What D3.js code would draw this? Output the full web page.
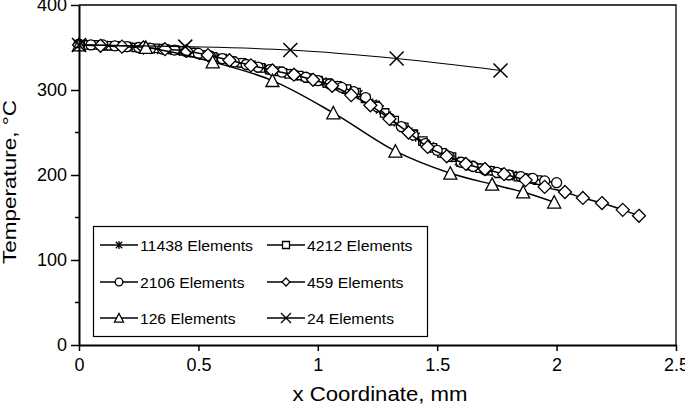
<!DOCTYPE html>
<html>
<head>
<meta charset="utf-8">
<script src="https://cdn.jsdelivr.net/npm/d3@7"></script>
<style>
  html, body { margin: 0; padding: 0; background: #fff; }
  svg { display: block; font-family: "Liberation Sans", Arial, sans-serif; }
</style>
</head>
<body>
<svg id="chart" width="685" height="405"></svg>
<script>
// ---------- data ----------
const seriesNames = ["11438 Elements", "4212 Elements", "2106 Elements", "459 Elements", "126 Elements", "24 Elements"];
const markerTypes = ["star", "square", "circle", "diamond", "triangle", "x"];

const x11438 = [0,0.03,0.06,0.09,0.12,0.15,0.18,0.21,0.24,0.27,0.3,0.33,0.36,0.39,0.42,0.45,0.48,0.51,0.54,0.57,0.6,0.63,0.66,0.69,0.72,0.75,0.78,0.81,0.84,0.87,0.9,0.93,0.96,0.99,1.02,1.05,1.08,1.11,1.14,1.17,1.2,1.23,1.26,1.29,1.32,1.35,1.38,1.41,1.44,1.47,1.5,1.53,1.56,1.59,1.605,1.62,1.635,1.65,1.665,1.68,1.695,1.71,1.725,1.74,1.755,1.77,1.785,1.8,1.815,1.83,1.845,1.86,1.875,1.89];
const y11438 = [354,354,353,353,352,352,351,351,350,350,349,348,348,347,346,345,344,342,340,338,337,335,333,331,329,327,325,323,322,320,318,316,314,312,310,307,305,302,299,295,290,284,277,270,263,257,251,245,239,234,229,225,221,216,215,213,212,210,209,208,207,206,205,204,203,202,201,200,199.5,199,198,197,196.5,196];

const x4212 = [0,0.04,0.08,0.12,0.16,0.2,0.24,0.28,0.32,0.36,0.4,0.44,0.48,0.52,0.56,0.6,0.64,0.68,0.72,0.76,0.8,0.84,0.88,0.92,0.96,1.0,1.04,1.08,1.12,1.16,1.2,1.24,1.28,1.32,1.36,1.4,1.44,1.48,1.52,1.56,1.6,1.64,1.68,1.72,1.76,1.8,1.84,1.88,1.92];
const y4212 = [353,353,353,352,352,351,350,350,349,348,347,346,344,341,339,337,334,332,329,326,324,322,319,317,314,311,308,305,301,297,290,282,273,264,256,248,240,232,226,221,215,211,208,205,202,200,198,196,194];

const x2106 = [0,0.05,0.1,0.15,0.2,0.25,0.3,0.35,0.4,0.45,0.5,0.55,0.6,0.65,0.7,0.75,0.8,0.85,0.9,0.95,1.0,1.05,1.1,1.15,1.2,1.25,1.3,1.35,1.4,1.45,1.5,1.55,1.6,1.65,1.7,1.75,1.8,1.85,1.9,1.95,2.0];
const y2106 = [354,353,353,352,351,350,349,348,347,345,343,340,337,333,330,327,324,321,318,315,311,307,303,298,291,280,267,257,247,237,229,222,215,210,206,203,200,198,196,193,191];

const x459 = [0,0.09,0.18,0.27,0.36,0.45,0.54,0.63,0.72,0.81,0.9,0.98,1.06,1.14,1.22,1.3,1.38,1.46,1.54,1.62,1.7,1.78,1.87,1.95,2.035,2.11,2.19,2.277,2.345];
const y459 = [353,352,351,350,348,346,341,335,329,323,318,312,305,294,282,266,250,233,222,213,207,201,194,186,180,173,167,159,152];

const x126 = [0,0.28,0.56,0.81,1.065,1.325,1.555,1.73,1.86,1.99];
const y126 = [353,350,333,311,273,228,202,189,180,168];

const x24 = [0,0.445,0.885,1.33,1.765];
const y24 = [353,351,347,337,323];

const xTickValues = [0,0.5,1,1.5,2,2.5];
const xTickLabels = ["0","0.5","1","1.5","2","2.5"];
const yTickValues = [0,100,200,300,400];
const yTickLabels = ["0","100","200","300","400"];
const yMinorTicks = [50,150,250,350];

const xTitle = "x Coordinate, mm";
const yTitle = "Temperature, °C";

// ---------- layout ----------
const svg = d3.select("#chart");
const L = 79, R = 676, T = 5, B = 345;
const x = d3.scaleLinear().domain([0, 2.5]).range([L, R]);
const y = d3.scaleLinear().domain([0, 400]).range([B, T]);

const seriesX = [x11438, x4212, x2106, x459, x126, x24];
const seriesY = [y11438, y4212, y2106, y459, y126, y24];
const lineWidths = [1.5, 1.5, 1.5, 1.5, 1.5, 1.1];
const markerSize = {star: 5, square: 4.2, circle: 5, diamond: 6.5, triangle: 6.5, x: 7};
const legendMarkerSize = {star: 4, square: 3.5, circle: 3.8, diamond: 4, triangle: 4.5, x: 5};
const legendTextWidths = [113, 105.5, 104.5, 96.5, 95.5, 87];

function markerPath(type, s) {
  switch (type) {
    case "star": {
      const d = s * 0.8;
      return `M${-d},${-d}L${d},${d}M${-d},${d}L${d},${-d}M0,${-s}L0,${s}`;
    }
    case "square": return `M${-s},${-s}H${s}V${s}H${-s}Z`;
    case "circle": return `M${s},0A${s},${s} 0 1,1 ${-s},0A${s},${s} 0 1,1 ${s},0Z`;
    case "diamond": return `M0,${-s}L${s},0L0,${s}L${-s},0Z`;
    case "triangle": return `M0,${-s}L${s},${s * 0.9}L${-s},${s * 0.9}Z`;
    case "x": return `M${-s},${-s}L${s},${s}M${-s},${s}L${s},${-s}`;
  }
}

// frame (top and right)
svg.append("path")
  .attr("d", `M${L},${T}H${R}V${B}`)
  .attr("fill", "none").attr("stroke", "#000").attr("stroke-width", 1.3);

// series
const lineGen = d3.line().x(d => x(d[0])).y(d => y(d[1])).curve(d3.curveCatmullRom.alpha(0.5));
seriesNames.forEach((name, i) => {
  const pts = seriesX[i].map((v, j) => [v, seriesY[i][j]]);
  const g = svg.append("g");
  g.append("path").datum(pts)
    .attr("d", lineGen)
    .attr("fill", "none").attr("stroke", "#000")
    .attr("stroke-width", lineWidths[i]);
  const type = markerTypes[i];
  g.selectAll("path.m").data(pts).enter().append("path")
    .attr("class", "m")
    .attr("transform", d => `translate(${x(d[0])},${y(d[1])})`)
    .attr("d", markerPath(type, markerSize[type]))
    .attr("fill", (type === "star" || type === "x") ? "none" : "#fff")
    .attr("stroke", "#000")
    .attr("stroke-width", type === "x" ? 1.5 : 1.3);
});

// axes
const xAxis = svg.append("g").attr("transform", `translate(0,${B})`)
  .call(d3.axisBottom(x).tickValues(xTickValues).tickFormat((d, i) => xTickLabels[i]).tickSize(6).tickSizeOuter(0));
xAxis.select(".domain").attr("stroke-width", 2);
xAxis.selectAll(".tick line").attr("stroke-width", 1.5);
xAxis.selectAll(".tick text").attr("font-size", 18).attr("font-family", "Liberation Sans, Arial, sans-serif")
  .attr("fill", "#000").attr("y", 13).attr("dy", "0.71em");

const yAxis = svg.append("g").attr("transform", `translate(${L},0)`)
  .call(d3.axisLeft(y).tickValues(yTickValues).tickFormat((d, i) => yTickLabels[i]).tickSize(8).tickSizeOuter(0));
yAxis.select(".domain").attr("stroke-width", 2);
yAxis.selectAll(".tick line").attr("stroke-width", 1.5);
yAxis.selectAll(".tick text").attr("font-size", 18).attr("font-family", "Liberation Sans, Arial, sans-serif")
  .attr("fill", "#000").attr("x", -12);

svg.append("g").selectAll("line").data(yMinorTicks).enter().append("line")
  .attr("x1", L - 4).attr("x2", L).attr("y1", d => y(d)).attr("y2", d => y(d))
  .attr("stroke", "#000").attr("stroke-width", 1.5);

// titles
svg.append("text").attr("x", 380).attr("y", 401).attr("text-anchor", "middle")
  .attr("font-size", 20).attr("textLength", 175).attr("lengthAdjust", "spacingAndGlyphs")
  .text(xTitle);
svg.append("text").attr("transform", "translate(16,182) rotate(-90)").attr("text-anchor", "middle")
  .attr("font-size", 18).attr("textLength", 164).attr("lengthAdjust", "spacingAndGlyphs")
  .text(yTitle);

// legend
const lg = svg.append("g");
lg.append("rect").attr("x", 93.5).attr("y", 226.5).attr("width", 334).attr("height", 110)
  .attr("fill", "#fff").attr("stroke", "#000").attr("stroke-width", 1.2);
const colX = [100, 267];
const rowY = [245, 282, 318];
seriesNames.forEach((name, i) => {
  const cx = colX[i % 2], cy = rowY[Math.floor(i / 2)];
  const type = markerTypes[i];
  lg.append("line").attr("x1", cx).attr("x2", cx + 38).attr("y1", cy).attr("y2", cy)
    .attr("stroke", "#000").attr("stroke-width", 1.5);
  lg.append("path").attr("transform", `translate(${cx + 19},${cy})`)
    .attr("d", markerPath(type, legendMarkerSize[type]))
    .attr("fill", (type === "star" || type === "x") ? "none" : "#fff")
    .attr("stroke", "#000").attr("stroke-width", 1.3);
  lg.append("text").attr("x", cx + 40).attr("y", cy + 5.5).attr("font-size", 15.5)
    .attr("textLength", legendTextWidths[i]).attr("lengthAdjust", "spacingAndGlyphs")
    .text(name);
});
</script>
</body>
</html>
